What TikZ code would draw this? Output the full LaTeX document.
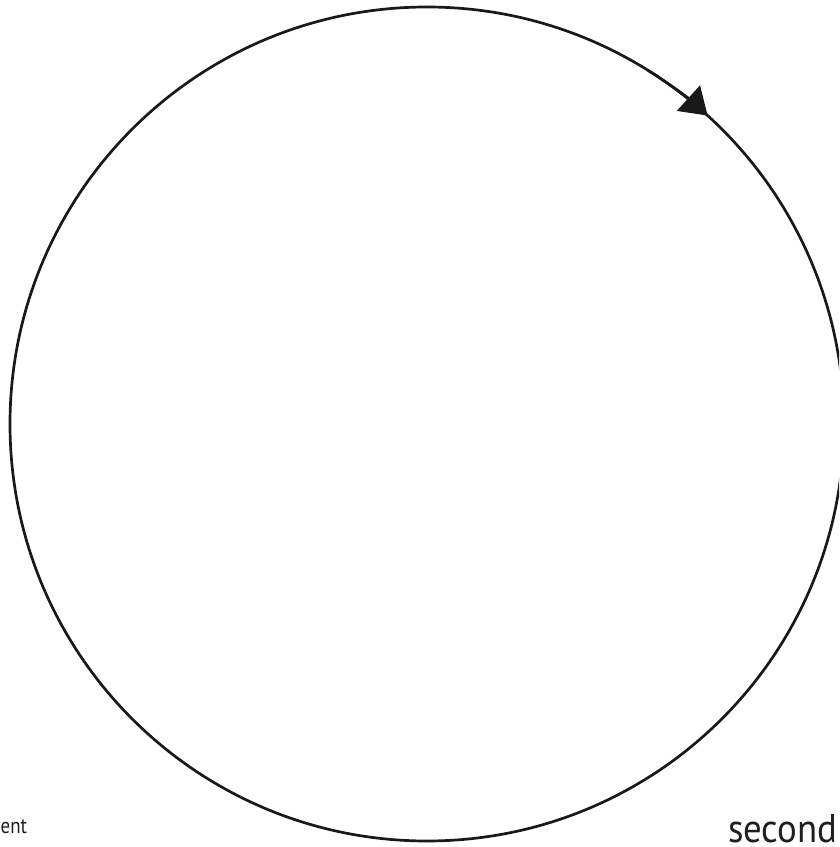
\documentclass[tikz,border=0pt]{standalone}
\usepackage{fontspec}
\setmainfont{PT Sans}
\newfontfamily\secfont[FakeStretch=0.92]{PT Sans}
\newfontfamily\entfont[FakeStretch=0.86]{PT Sans}
\usetikzlibrary{arrows.meta}
\begin{document}
\begin{tikzpicture}[x=1pt,y=1pt,
  ring/.style={line width=2.7pt,draw=black!90},
  lbl/.style={inner sep=0pt,text=black!88,font=\fontsize{#1}{#1}\selectfont}]
\useasboundingbox (0,0) rectangle (839,847);
\coordinate (c) at (427,423);
\begin{scope}
\clip (0,0) rectangle (839,847);
\draw[ring] (c) circle[radius=417];
\draw[ring,-{Triangle[length=26pt,width=34pt]}] ([shift={(58:417)}]c) arc[start angle=58,end angle=47.7,radius=417];
\end{scope}
\node[lbl=22,anchor=base west] (ent) at (0.5,13) {\entfont ent};
\node[lbl=40,anchor=base east] (sec) at (837.5,5) {\secfont second};
\end{tikzpicture}
\end{document}
